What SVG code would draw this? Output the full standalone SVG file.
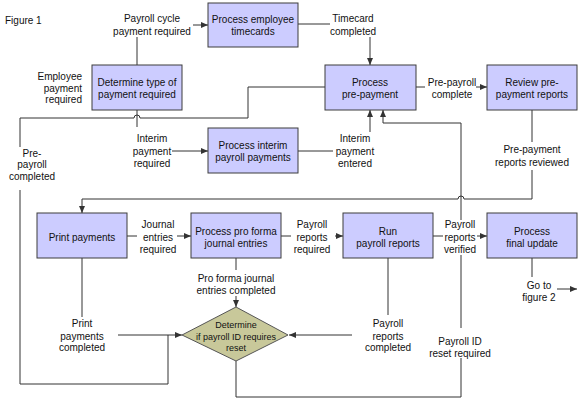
<svg xmlns="http://www.w3.org/2000/svg" width="588" height="407" viewBox="0 0 588 407">
<defs>
<marker id="ah" markerWidth="7" markerHeight="6" refX="7" refY="3" orient="auto" markerUnits="userSpaceOnUse">
<path d="M0,0 L7,3 L0,6 Z" fill="#333"/>
</marker>
<style>
.box{fill:#ccccff;stroke:#3c3c3c;stroke-width:1}
.dia{fill:#c8c89a;stroke:#555;stroke-width:1}
.ln{fill:none;stroke:#333;stroke-width:1}
.ar{fill:none;stroke:#333;stroke-width:1;marker-end:url(#ah)}
text{font-family:"Liberation Sans",Arial,sans-serif;font-size:10px;fill:#111;text-anchor:middle}
.l{text-anchor:start}
.r{text-anchor:end}
.s{font-size:9px}
</style>
</defs>
<rect width="588" height="407" fill="#fff"/>
<text class="l" x="5" y="24">Figure 1</text>

<g id="connectors">
<path class="ln" d="M137,65 V37"/>
<path class="ar" d="M193,25 H208"/>
<path class="ln" d="M298,24 H330"/>
<path class="ar" d="M370,37 V65"/>
<path class="ln" d="M416,87 H425"/>
<path class="ar" d="M476,87 H487"/>
<path class="ln" d="M532,110 V142"/>
<path class="ar" d="M532,170 V199 H464 A3,3 0 0 0 458,199 H82 V213"/>
<path class="ln" d="M137,110 V127"/>
<path class="ar" d="M172,151 H208"/>
<path class="ln" d="M298,151 H333"/>
<path class="ar" d="M370,132 V110"/>
<path class="ln" d="M325,87 H248 V118 H140 A3,3 0 0 0 134,118 H20 V147"/>
<path class="ln" d="M20,190 V384 H168 V335"/>
<path class="ln" d="M82,258 V317"/>
<path class="ar" d="M118,335 H182"/>
<path class="ln" d="M127,236 H137"/>
<path class="ar" d="M177,236 H191"/>
<path class="ln" d="M236,258 V270"/>
<path class="ar" d="M236,296 V307"/>
<path class="ln" d="M281,236 H291"/>
<path class="ar" d="M335,236 H343"/>
<path class="ln" d="M388,258 V315"/>
<path class="ar" d="M352,335 H289"/>
<path class="ln" d="M433,236 H443"/>
<path class="ar" d="M477,236 H487"/>
<path class="ln" d="M532,258 V277"/>
<path class="ar" d="M557,289 H577"/>
<path class="ln" d="M236,361 V397 H461 V358"/>
<path class="ln" d="M461,328 V255"/>
<path class="ar" d="M461,220 V123 H383 V110"/>
</g>

<g id="n-timecards"><rect class="box" x="208" y="3" width="90" height="44"/><text x="253" y="22.5">Process employee</text><text x="253" y="35">timecards</text></g>
<g id="n-determine"><rect class="box" x="92" y="65" width="90" height="45"/><text x="137" y="85.5">Determine type of</text><text x="137" y="98">payment required</text></g>
<g id="n-prepayment"><rect class="box" x="325" y="65" width="91" height="45"/><text x="370" y="85.5">Process</text><text x="370" y="98">pre-payment</text></g>
<g id="n-review"><rect class="box" x="487" y="65" width="90" height="45"/><text x="532" y="85.5">Review pre-</text><text x="532" y="98">payment reports</text></g>
<g id="n-interim"><rect class="box" x="208" y="128" width="90" height="45"/><text x="253" y="148.5">Process interim</text><text x="253" y="161">payroll payments</text></g>
<g id="n-print"><rect class="box" x="37" y="213" width="90" height="45"/><text x="82" y="240.5">Print payments</text></g>
<g id="n-proforma"><rect class="box" x="191" y="213" width="90" height="45"/><text x="236" y="235">Process pro forma</text><text x="236" y="247">journal entries</text></g>
<g id="n-run"><rect class="box" x="343" y="213" width="90" height="45"/><text x="388" y="235">Run</text><text x="388" y="247">payroll reports</text></g>
<g id="n-final"><rect class="box" x="487" y="213" width="90" height="45"/><text x="532" y="235">Process</text><text x="532" y="247">final update</text></g>
<g id="n-reset"><path class="dia" d="M236,307 L288,335 L236,361 L182,335 Z"/><text class="s" x="236" y="328">Determine</text><text class="s" x="236" y="340">if payroll ID requires</text><text class="s" x="236" y="350.5">reset</text></g>

<g id="labels">
<text x="152" y="22">Payroll cycle</text><text x="152" y="35">payment required</text>
<text x="353" y="22">Timecard</text><text x="353" y="35">completed</text>
<text class="r" x="82" y="79.5">Employee</text><text class="r" x="82" y="91.5">payment</text><text class="r" x="82" y="103">required</text>
<text x="452" y="85.5">Pre-payroll</text><text x="452" y="98">complete</text>
<text x="152" y="141.5">Interim</text><text x="152" y="154.5">payment</text><text x="152" y="166.5">required</text>
<text x="355" y="141.5">Interim</text><text x="355" y="154.5">payment</text><text x="355" y="166.5">entered</text>
<text x="32" y="156.5">Pre-</text><text x="32" y="168">payroll</text><text x="32" y="179.5">completed</text>
<text x="532" y="152.5">Pre-payment</text><text x="532" y="165.5">reports reviewed</text>
<text x="158" y="227.5">Journal</text><text x="158" y="240.5">entries</text><text x="158" y="252.5">required</text>
<text x="312" y="227.5">Payroll</text><text x="312" y="240.5">reports</text><text x="312" y="252.5">required</text>
<text x="460" y="227.5">Payroll</text><text x="460" y="240.5">reports</text><text x="460" y="252.5">verified</text>
<text x="539" y="288.5">Go to</text><text x="539" y="300.5">figure 2</text>
<text x="236" y="281.5">Pro forma journal</text><text x="236" y="293.5">entries completed</text>
<text x="82" y="326.5">Print</text><text x="82" y="339.5">payments</text><text x="82" y="350.5">completed</text>
<text x="388" y="326.5">Payroll</text><text x="388" y="339.5">reports</text><text x="388" y="351">completed</text>
<text x="460" y="344.5">Payroll ID</text><text x="460" y="356.5">reset required</text>
</g>
</svg>
